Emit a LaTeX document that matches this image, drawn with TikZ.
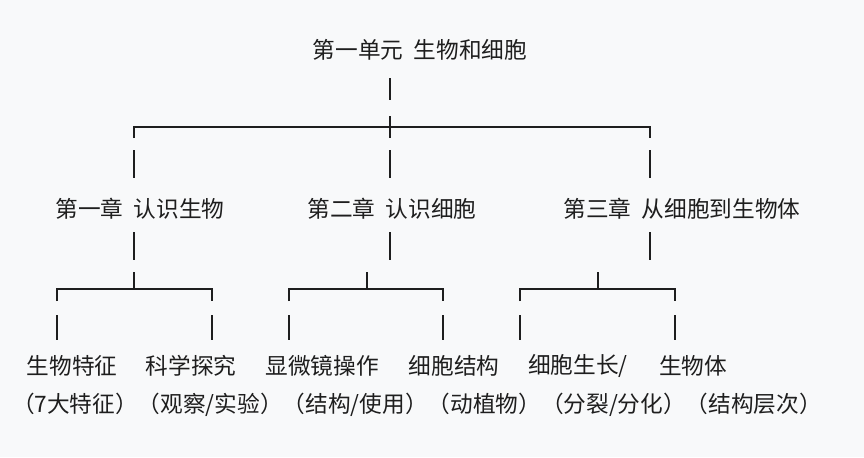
\documentclass[tikz,border=0pt]{standalone}
\usepackage{fontspec}
\setmainfont{Noto Sans CJK SC}
\definecolor{bgpaper}{RGB}{248,249,250}
\definecolor{inktext}{RGB}{30,30,30}
\tikzset{every picture/.style={line width=0.9pt}}
\tikzset{lbl/.style={inner sep=0pt,text=inktext,font=\fontsize{17}{20}\selectfont},
  wire/.style={draw=inktext,line width=0.9pt}}
\begin{document}
\begin{tikzpicture}[x=0.75pt,y=0.75pt,yscale=-1,xscale=1]
\fill [bgpaper] (0,0) rectangle (864,457);
\useasboundingbox (0,0) rectangle (864,457);

\node [lbl] (unit) at (420,50) {第一单元\ \ 生物和细胞};
\node [lbl] (ch1) at (140,209) {第一章\ \ 认识生物};
\node [lbl] (ch2) at (392,209) {第二章\ \ 认识细胞};
\node [lbl] (ch3) at (682,209) {第三章\ \ 从细胞到生物体};

\node [lbl] (a1) at (72,366) {生物特征};
\node [lbl] (a2) at (191,366) {科学探究};
\node [lbl] (b1) at (322,366) {显微镜操作};
\node [lbl] (b2) at (454,366) {细胞结构};
\node [lbl] (c1) at (578,366) {细胞生长/};
\node [lbl] (c2) at (693,366) {生物体};
\node [lbl] (notes) at (417,405) {（7大特征）（观察/实验）（结构/使用）（动植物）（分裂/分化）（结构层次）};

% top bracket
\coordinate (t0) at (390,78);
\coordinate (t1) at (390,100);
\draw [wire] (t0) -- (t1);
\draw [wire] (390,116) -- (390,138);
\draw [wire] (134,138) |- (650,127) -- (650,138);
\foreach \x in {134,390,650} {
  \draw [wire] (\x,150) -- (\x,178);
  \draw [wire] (\x,232) -- (\x,260);
}

% lower brackets
\foreach \m/\l/\r in {134/57/212, 367/289/443, 598/520/675} {
  \draw [wire] (\m,272) -- (\m,289);
  \draw [wire] (\l,301) |- (\r,289) -- (\r,301);
  \draw [wire] (\l,315) -- (\l,340);
  \draw [wire] (\r,315) -- (\r,340);
}

\end{tikzpicture}
\end{document}
